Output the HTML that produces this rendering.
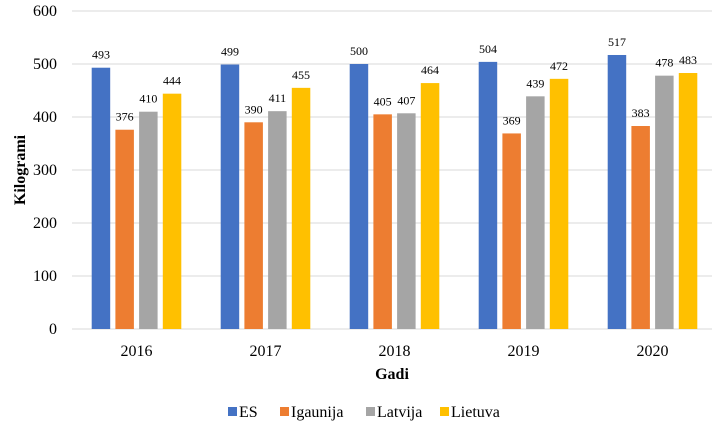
<!DOCTYPE html>
<html><head><meta charset="utf-8"><style>
body{margin:0;background:#fff}
svg text{font-family:"Liberation Serif",serif;fill:#000}
</style></head><body>
<svg id="c" width="725" height="427"></svg>
<script>
const categories=["2016","2017","2018","2019","2020"];
const seriesNames=["ES","Igaunija","Latvija","Lietuva"];
const es=[493,499,500,504,517];
const igaunija=[376,390,405,369,383];
const latvija=[410,411,407,439,478];
const lietuva=[444,455,464,472,483];
const yTicks=[0,100,200,300,400,500,600];
const colors=["#4472C4","#ED7D31","#A5A5A5","#FFC000"];
const series=[es,igaunija,latvija,lietuva];
const NS="http://www.w3.org/2000/svg";
const svg=document.getElementById('c');
const L=72,R=717,T=11,B=329,yMax=600;
const y=v=>B-(v/yMax)*(B-T);
const band=(R-L)/categories.length;
const xc=i=>L+band*(i+0.5);
function el(t,a,txt){const e=document.createElementNS(NS,t);for(const k in a)e.setAttribute(k,a[k]);if(txt!=null)e.textContent=txt;svg.appendChild(e);return e;}
yTicks.forEach(t=>{
 const g=el('line',{x1:L,x2:712,y1:y(t),y2:y(t),stroke:'#d9d9d9','stroke-width':1});
 
 
 const lb=el('text',{x:57,y:y(t)+5,'text-anchor':'end','font-size':16},t);
 
 
});
const bw=18.5,stride=23.7;
categories.forEach((c,i)=>{
 series.forEach((s,j)=>{
  const x=xc(i)-2*stride+j*stride+(stride-bw)/2;
  const r=el('rect',{x:x,y:y(s[i]),width:bw,height:B-y(s[i]),fill:colors[j]});
  
  
  const t=el('text',{x:x+bw/2,y:y(s[i])-9,'text-anchor':'middle','font-size':12},s[i]);
  
  
 });
 const xl=el('text',{x:xc(i),y:356,'text-anchor':'middle','font-size':16},c);
 
 
});
const xt=el('text',{x:392,y:379,'text-anchor':'middle','font-size':16,'font-weight':'bold'},'Gadi');


const yt=el('text',{x:0,y:0,'text-anchor':'middle','font-size':16,'font-weight':'bold',transform:'translate(25,170) rotate(-90)'},'Kilogrami');


const lx=[228,280,366,440];
seriesNames.forEach((n,j)=>{
 const r=el('rect',{x:lx[j],y:407,width:9,height:9,fill:colors[j]});
 
 
 const t=el('text',{x:lx[j]+11,y:417,'font-size':16},n);
 
 
});
</script>
</body></html>
